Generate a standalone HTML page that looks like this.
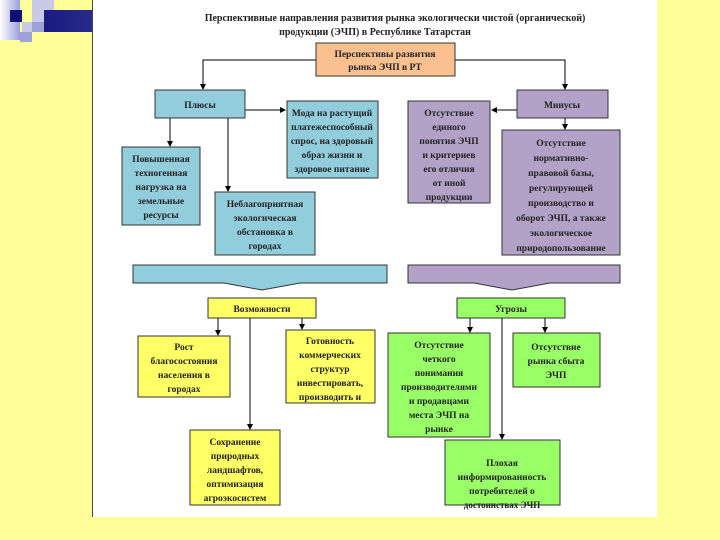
<!DOCTYPE html>
<html><head><meta charset="utf-8"><style>
html,body{margin:0;padding:0}
body{width:720px;height:540px;background:#ffff99;position:relative;overflow:hidden;font-family:"Liberation Serif",serif}
svg{position:absolute;left:0;top:0}
text{font-family:"Liberation Serif",serif;font-weight:bold;font-size:9.5px;fill:#222;text-anchor:middle}
</style></head><body>
<svg width="720" height="540" viewBox="0 0 720 540">
<defs>
<linearGradient id="g" x1="0" x2="1"><stop offset="0" stop-color="#ffffff"/><stop offset="1" stop-color="#9aa0d8"/></linearGradient>
<linearGradient id="b" x1="0" x2="1"><stop offset="0" stop-color="#1a1a80"/><stop offset="1" stop-color="#2a2a8a"/></linearGradient>
<marker id="a" markerWidth="6" markerHeight="6" refX="5" refY="3" orient="auto" markerUnits="userSpaceOnUse"><path d="M0,0 L6,3 L0,6z" fill="#000"/></marker>
</defs>
<!-- decoration -->
<rect x="0" y="0" width="20" height="40" fill="url(#g)"/>
<rect x="10" y="10" width="12" height="12" fill="#10107a"/>
<rect x="32" y="0" width="12" height="10" fill="#c8cae8"/>
<rect x="32" y="10" width="12" height="12" fill="#c8cae8"/>
<rect x="22" y="22" width="12" height="10" fill="#c8cae8"/>
<rect x="32" y="22" width="12" height="10" fill="#9ea2d8"/>
<rect x="44" y="10" width="48" height="22" fill="url(#b)"/>
<rect x="44" y="0" width="10" height="10" fill="#c8cae8"/>
<rect x="20" y="32" width="12" height="10" fill="#9ea2d8"/>
<!-- white panel -->
<rect x="93" y="0" width="564" height="517" fill="#fff"/>
<line x1="92.5" y1="0" x2="92.5" y2="517" stroke="#444" stroke-width="1"/>
<text x="395" y="21" style="font-size:10px">Перспективные направления развития рынка экологически чистой (органической)</text>
<text x="375" y="35" style="font-size:10px">продукции (ЭЧП) в Республике Татарстан</text>
<g stroke="#000" stroke-width="1" fill="none">
<path d="M316,60 H203 V89" marker-end="url(#a)"/>
<path d="M455,60 H565 V89" marker-end="url(#a)"/>
<path d="M170,118 V146" marker-end="url(#a)"/>
<path d="M228,118 V191" marker-end="url(#a)"/>
<path d="M245,110 H285" marker-end="url(#a)"/>
<path d="M517,110 H492" marker-end="url(#a)"/>
<path d="M565,118 V129" marker-end="url(#a)"/>
<path d="M218,318 V335" marker-end="url(#a)"/>
<path d="M250,318 V429" marker-end="url(#a)"/>
<path d="M302,318 V329" marker-end="url(#a)"/>
<path d="M470,318 V332" marker-end="url(#a)"/>
<path d="M502,318 V439" marker-end="url(#a)"/>
<path d="M545,318 V332" marker-end="url(#a)"/>
</g>
<g stroke="#333" stroke-width="1">
<rect x="316" y="43" width="139" height="33" fill="#fac090"/>
<rect x="155" y="90" width="90" height="28" fill="#92cddc"/>
<rect x="287" y="101" width="91" height="77" fill="#92cddc"/>
<rect x="122" y="147" width="78" height="78" fill="#92cddc"/>
<rect x="215" y="192" width="100" height="63" fill="#92cddc"/>
<rect x="408" y="101" width="82" height="102" fill="#b2a2c7"/>
<rect x="517" y="90" width="91" height="28" fill="#b2a2c7"/>
<rect x="502" y="130" width="118" height="125" fill="#b2a2c7"/>
<path d="M133,265 H387 V283 H300 L262,290 L224,283 H133Z" fill="#92cddc"/>
<path d="M408,265 H620 V283 H550 L512,290 L474,283 H408Z" fill="#b2a2c7"/>
<rect x="208" y="298" width="108" height="20" fill="#ffff66"/>
<rect x="457" y="298" width="108" height="20" fill="#99ff66"/>
<rect x="138" y="336" width="92" height="61" fill="#ffff66"/>
<rect x="286" y="330" width="89" height="73" fill="#ffff66"/>
<rect x="190" y="430" width="90" height="75" fill="#ffff66"/>
<rect x="388" y="333" width="102" height="104" fill="#99ff66"/>
<rect x="513" y="333" width="87" height="54" fill="#99ff66"/>
<rect x="445" y="440" width="115" height="65" fill="#99ff66"/>
</g>
<text x="385" y="57">Перспективы развития</text>
<text x="385" y="70">рынка ЭЧП в РТ</text>
<text x="200" y="108">Плюсы</text>
<text x="562" y="108">Минусы</text>
<text x="332" y="116">Мода на растущий</text>
<text x="332" y="130">платежеспособный</text>
<text x="332" y="144">спрос, на здоровый</text>
<text x="332" y="158">образ жизни и</text>
<text x="332" y="172">здоровое питание</text>
<text x="161" y="162">Повышенная</text>
<text x="161" y="176">техногенная</text>
<text x="161" y="190">нагрузка на</text>
<text x="161" y="204">земельные</text>
<text x="161" y="218">ресурсы</text>
<text x="265" y="207">Неблагоприятная</text>
<text x="265" y="221">экологическая</text>
<text x="265" y="235">обстановка в</text>
<text x="265" y="249">городах</text>
<text x="449" y="116">Отсутствие</text>
<text x="449" y="130">единого</text>
<text x="449" y="144">понятия ЭЧП</text>
<text x="449" y="158">и критериев</text>
<text x="449" y="172">его отличия</text>
<text x="449" y="186">от иной</text>
<text x="449" y="200">продукции</text>
<text x="561" y="146">Отсутствие</text>
<text x="561" y="161">нормативно-</text>
<text x="561" y="176">правовой базы,</text>
<text x="561" y="191">регулирующей</text>
<text x="561" y="206">производство и</text>
<text x="561" y="221">оборот ЭЧП, а также</text>
<text x="561" y="236">экологическое</text>
<text x="561" y="251">природопользование</text>
<text x="262" y="312">Возможности</text>
<text x="511" y="312">Угрозы</text>
<text x="184" y="350">Рост</text>
<text x="184" y="364">благосостояния</text>
<text x="184" y="378">населения в</text>
<text x="184" y="392">городах</text>
<text x="330" y="344">Готовность</text>
<text x="330" y="358">коммерческих</text>
<text x="330" y="372">структур</text>
<text x="330" y="386">инвестировать,</text>
<text x="330" y="400">производить и</text>
<text x="330" y="414" style="display:none"></text>
<text x="235" y="445">Сохранение</text>
<text x="235" y="459">природных</text>
<text x="235" y="473">ландшафтов,</text>
<text x="235" y="487">оптимизация</text>
<text x="235" y="501">агроэкосистем</text>
<text x="439" y="348">Отсутствие</text>
<text x="439" y="362">четкого</text>
<text x="439" y="376">понимания</text>
<text x="439" y="390">производителями</text>
<text x="439" y="404">и продавцами</text>
<text x="439" y="418">места ЭЧП на</text>
<text x="439" y="432">рынке</text>
<text x="556" y="350">Отсутствие</text>
<text x="556" y="364">рынка сбыта</text>
<text x="556" y="378">ЭЧП</text>
<text x="502" y="466">Плохая</text>
<text x="502" y="480">информированность</text>
<text x="502" y="494">потребителей о</text>
<text x="502" y="508" style="font-size:9px">достоинствах ЭЧП</text>
</svg>
</body></html>
